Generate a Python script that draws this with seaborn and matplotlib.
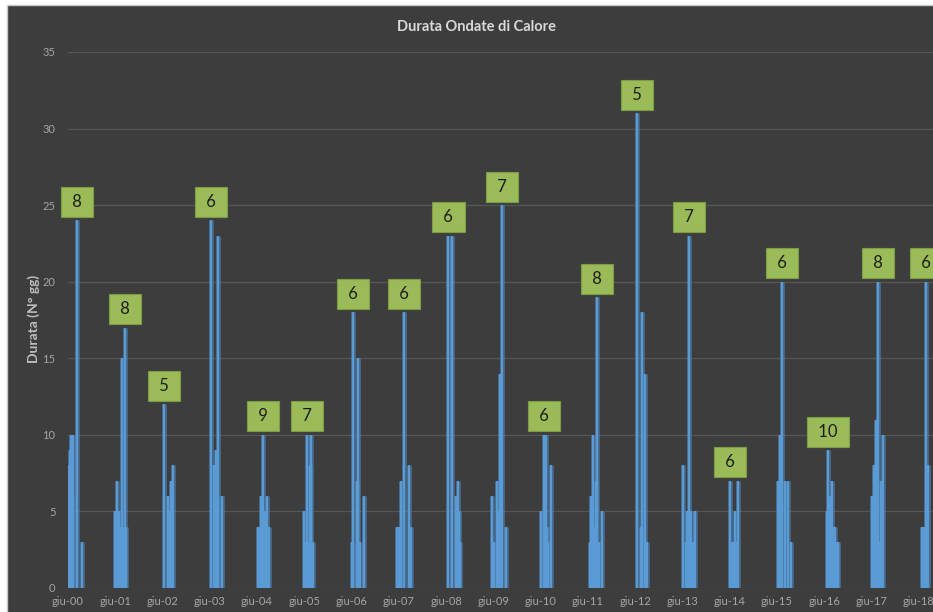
import pandas as pd
import numpy as np
import matplotlib
matplotlib.use("Agg")
import matplotlib.pyplot as plt
import matplotlib.dates as mdates
import matplotlib.patheffects as pe
from matplotlib.patches import Rectangle
import seaborn as sns

# data delle ondate (mese-giorno) e durata in giorni, anno per anno
date00 = ['06-06', '06-12', '06-20', '06-27', '07-05', '07-12', '08-10', '09-18']
dur00 = [8, 4, 9, 10, 6, 10, 24, 3]
date01 = ['05-27', '06-18', '06-28', '07-08', '07-20', '07-28', '08-14', '08-22']
dur01 = [5, 7, 5, 4, 15, 4, 17, 4]
date02 = ['06-13', '07-13', '07-21', '08-03', '08-19']
dur02 = [12, 6, 5, 7, 8]
date03 = ['06-11', '07-04', '07-19', '07-27', '08-06', '09-04']
dur03 = [24, 8, 9, 6, 23, 6]
date04 = ['06-05', '06-16', '06-28', '07-10', '07-20', '08-02', '08-09', '08-21', '09-02']
dur04 = [4, 4, 6, 4, 10, 5, 4, 6, 4]
date05 = ['05-30', '06-11', '06-25', '07-04', '07-15', '07-27', '08-08']
dur05 = [5, 3, 10, 3, 8, 10, 3]
date06 = ['06-05', '06-15', '07-10', '07-19', '08-06', '09-06']
dur06 = [3, 18, 7, 15, 3, 6]
date07 = ['05-21', '06-03', '06-18', '07-14', '08-17', '09-01']
dur07 = [4, 4, 7, 18, 8, 4]
date08 = ['06-20', '07-17', '08-17', '09-04', '09-09', '09-17']
dur08 = [23, 23, 6, 7, 5, 3]
date09 = ['05-25', '06-07', '06-28', '07-10', '07-23', '08-05', '09-07']
dur09 = [6, 3, 7, 5, 14, 25, 4]
date10 = ['06-05', '06-28', '07-11', '07-19', '07-31', '08-21']
dur10 = [5, 10, 10, 4, 3, 8]
date11 = ['06-18', '06-28', '07-09', '07-25', '08-04', '08-14', '08-29', '09-17']
dur11 = [3, 6, 10, 4, 7, 19, 3, 5]
date12 = ['06-14', '07-15', '07-27', '08-17', '08-30']
dur12 = [31, 4, 18, 14, 3]
date13 = ['06-09', '06-26', '07-08', '07-21', '08-07', '08-21', '09-07']
dur13 = [8, 3, 5, 23, 5, 3, 5]
date14 = ['06-05', '06-18', '06-28', '07-13', '07-25', '08-08']
dur14 = [7, 3, 3, 5, 3, 7]
date15 = ['06-08', '06-28', '07-12', '08-04', '08-29', '09-16']
dur15 = [7, 10, 20, 7, 7, 3]
date16 = ['06-22', '06-28', '07-04', '07-13', '07-30', '08-06', '08-12', '08-25', '09-07', '09-19']
dur16 = [5, 4, 9, 6, 7, 3, 4, 4, 3, 3]
date17 = ['06-04', '06-11', '06-22', '07-08', '07-21', '08-04', '08-15', '09-02']
dur17 = [6, 6, 8, 11, 20, 3, 7, 10]
date18 = ['06-28', '07-11', '07-27', '08-16', '09-29', '10-14']
dur18 = [4, 4, 20, 8, 5, 3]

anni = list(range(2000, 2019))
n_ondate = [8, 8, 5, 6, 9, 7, 6, 6, 6, 7, 6, 8, 5, 7, 6, 6, 10, 8, 6]

tutte_date = [date00, date01, date02, date03, date04, date05, date06, date07, date08, date09,
              date10, date11, date12, date13, date14, date15, date16, date17, date18]
tutte_dur = [dur00, dur01, dur02, dur03, dur04, dur05, dur06, dur07, dur08, dur09,
             dur10, dur11, dur12, dur13, dur14, dur15, dur16, dur17, dur18]

rows = []
for anno, dd, vv in zip(anni, tutte_date, tutte_dur):
    for d, v in zip(dd, vv):
        rows.append({'anno': anno, 'data': pd.Timestamp(f"{anno}-{d}"), 'durata': v})
df = pd.DataFrame(rows)

sns.set_theme(style="dark")
plt.rcParams['font.family'] = ['Lato', 'DejaVu Sans']

bg = '#3d3d3d'
fig = plt.figure(figsize=(9.33, 6.12), dpi=100, facecolor='white')
fig.patches.append(Rectangle((7 / 933, -0.01), 1.0, (612 - 5) / 612 + 0.01,
                             transform=fig.transFigure, facecolor=bg,
                             edgecolor='#c8c8c8', lw=1.0, zorder=-10))

ax = fig.add_axes([68 / 933, 24 / 612, 865 / 933, 536 / 612])
ax.set_facecolor(bg)
for s in ax.spines.values():
    s.set_visible(False)

x0 = pd.Timestamp('2000-06-01')
x1 = x0 + pd.Timedelta(days=int(865 / 47.25 * 365.25))
ax.set_xlim(x0, x1)
ax.set_ylim(0, 35)
ax.set_yticks(range(0, 36, 5))
ax.yaxis.grid(True, color='#565656', lw=0.9)
ax.xaxis.grid(False)

ax.vlines(df['data'], 0, df['durata'], color='#5b9bd5', lw=1.7, zorder=3,
          path_effects=[pe.Stroke(linewidth=3.6, foreground='#4f86b8', alpha=0.55), pe.Normal()])

for anno, n in zip(anni, n_ondate):
    sub = df[df['anno'] == anno]
    top = sub.loc[sub['durata'].idxmax()]
    ax.annotate(f" {n} ", xy=(top['data'], top['durata']), xytext=(0, 7.5),
                textcoords='offset points', ha='center', va='bottom',
                fontsize=12, color='#1e1e1e', zorder=5, annotation_clip=False,
                bbox=dict(boxstyle='square,pad=0.42', facecolor='#9bbb59',
                          edgecolor='#7d9c43', lw=0.8))

ax.xaxis.set_major_locator(mdates.MonthLocator(bymonth=6))
ax.xaxis.set_major_formatter(plt.FuncFormatter(
    lambda x, _: f"giu-{mdates.num2date(x).year % 100:02d}"))
ax.tick_params(axis='both', length=0, labelsize=8, labelcolor='#a6a6a6')
ax.tick_params(axis='x', pad=6)
ax.tick_params(axis='y', pad=9)

ax.set_ylabel('Durata (N° gg)', fontsize=10, fontweight='bold', color='#bfbfbf')
ax.yaxis.set_label_coords(-28 / 865, 0.502)
ax.set_xlabel('')

fig.text(476 / 933, 1 - 27 / 612, 'Durata Ondate di Calore', ha='center', va='center',
         fontsize=10.5, fontweight='bold', color='#d9d9d9')

fig.savefig('out.png', dpi=100, facecolor='white')
